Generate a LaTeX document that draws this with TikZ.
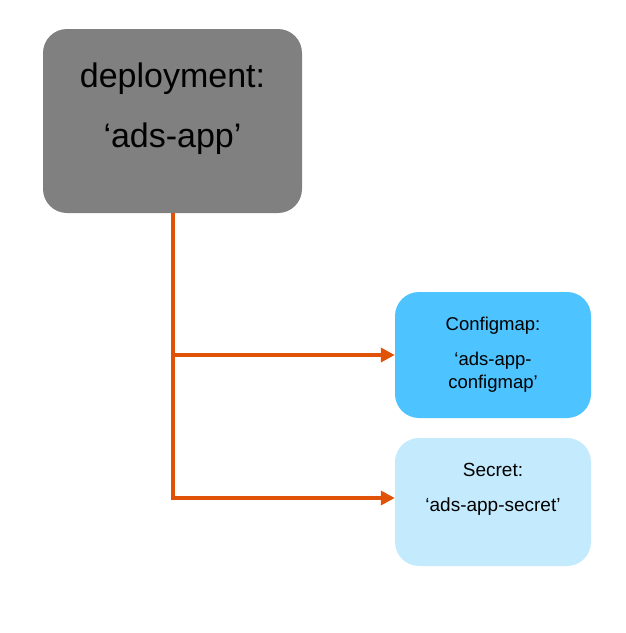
\documentclass[tikz,border=0pt]{standalone}
\usepackage{fontspec}
\setmainfont{Liberation Sans}
\usepackage{tikz}
\usetikzlibrary{arrows.meta}

\definecolor{boxgray}{HTML}{808080}
\definecolor{cmblue}{HTML}{4DC3FF}
\definecolor{secblue}{HTML}{C4EBFD}
\definecolor{wireorange}{HTML}{E05206}

\begin{document}
\begin{tikzpicture}[x=1pt, y=-1pt,
    box/.style = {rounded corners=24pt, inner sep=0pt, align=center},
    wire/.style = {draw=wireorange, line width=4pt, -{Triangle[length=14pt, width=14pt]}}]
                \useasboundingbox (0,0) rectangle (626,633);

                \node[box, fill=boxgray, minimum width=259pt, minimum height=184pt,
                      font=\fontsize{34}{60}\selectfont] at (172.5, 121) (deploy) {deployment:\\‘ads-app’\\[-46pt]\strut};
                \node[box, fill=cmblue, minimum width=196pt, minimum height=126pt,
                      font=\fontsize{18.5}{23}\selectfont] at (493, 355) (config) {Configmap:\\[12pt]‘ads-app-\\configmap’};
                \node[box, fill=secblue, minimum width=196pt, minimum height=128pt,
                      font=\fontsize{19}{35}\selectfont] at (493, 502) (secret) {Secret:\\‘ads-app-secret’\\[-16pt]\strut};

                \coordinate (split) at (deploy.south |- config.west);

                \draw[wire] (deploy.south) |- ([yshift=4pt]secret.west);
                \draw[wire] (split) -- (config.west);
            \end{tikzpicture}
\end{document}
